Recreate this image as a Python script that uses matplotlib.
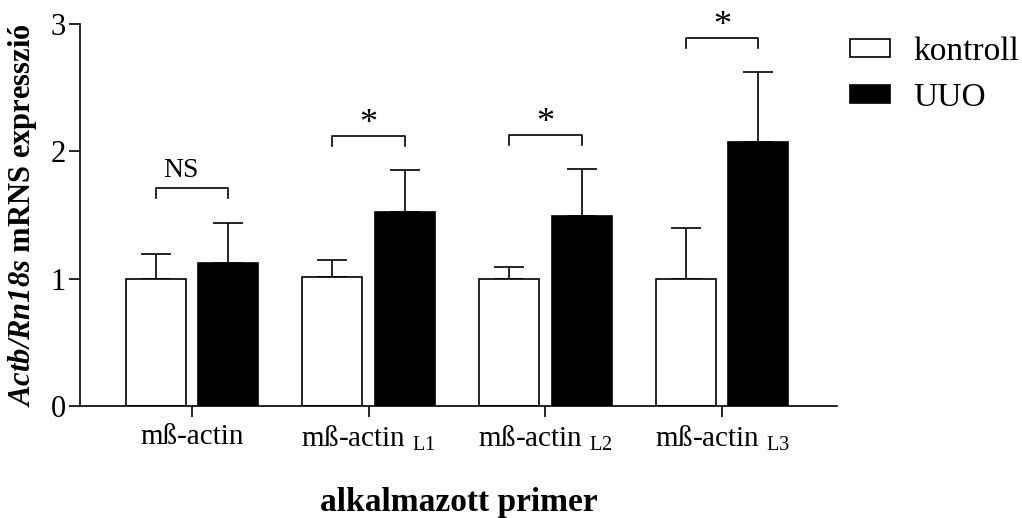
import numpy as np
import matplotlib
matplotlib.use("Agg")
import matplotlib.pyplot as plt
from matplotlib.patches import Patch

plt.rcParams['font.family'] = ['Liberation Serif', 'DejaVu Serif']
plt.rcParams['mathtext.fontset'] = 'custom'
plt.rcParams['mathtext.rm'] = 'Liberation Serif'
plt.rcParams['mathtext.it'] = 'Liberation Serif:italic'
plt.rcParams['mathtext.bf'] = 'Liberation Serif:bold'
plt.rcParams['mathtext.bfit'] = 'Liberation Serif:italic:bold'

# data
primers = ["mß-actin", r"mß-actin $_{\mathrm{L1}}$", r"mß-actin $_{\mathrm{L2}}$", r"mß-actin $_{\mathrm{L3}}$"]
kontroll = [1.00, 1.01, 1.00, 1.00]
kontroll_top = [1.19, 1.15, 1.09, 1.40]
uuo = [1.12, 1.52, 1.49, 2.07]
uuo_top = [1.44, 1.85, 1.86, 2.62]
signif = ["NS", "*", "*", "*"]

x = np.arange(len(primers))
w = 0.34
off = 0.205

fig = plt.figure(figsize=(10.22, 5.18), dpi=100)
ax = fig.add_axes([0.078, 0.216, 0.741, 0.738])

k_err = np.array(kontroll_top) - np.array(kontroll)
u_err = np.array(uuo_top) - np.array(uuo)

ax.bar(x - off, kontroll, w, color='white', edgecolor='black', linewidth=1.2, zorder=2)
ax.bar(x + off, uuo, w, color='black', edgecolor='black', linewidth=1.2, zorder=2)
ax.errorbar(x - off, kontroll, yerr=[np.zeros(len(x)), k_err], fmt='none',
            ecolor='black', elinewidth=1.2, capsize=10.5, capthick=1.2, zorder=1)
ax.errorbar(x + off, uuo, yerr=[np.zeros(len(x)), u_err], fmt='none',
            ecolor='black', elinewidth=1.2, capsize=10.5, capthick=1.2, zorder=1)

# significance brackets
for i in range(len(x)):
    top = max(kontroll_top[i], uuo_top[i]) + 0.27
    ax.plot([x[i] - off, x[i] - off, x[i] + off, x[i] + off],
            [top - 0.08, top, top, top - 0.08], color='black', lw=1.2, clip_on=False)
    if signif[i] == "NS":
        ax.text(x[i] - 0.06, top + 0.04, "NS", ha='center', va='bottom', fontsize=20)
    else:
        ax.text(x[i], top - 0.04, "*", ha='center', va='bottom', fontsize=26)

ax.set_xlim(-0.635, 3.65)
ax.set_ylim(0, 3)
ax.set_yticks([0, 1, 2, 3])
ax.set_xticks(x)
ax.set_xticklabels(primers, fontsize=21)
ax.tick_params(axis='y', labelsize=22, length=8, width=1.2, pad=2)
ax.tick_params(axis='x', length=8, width=1.2, pad=5)
ax.spines['top'].set_visible(False)
ax.spines['right'].set_visible(False)
ax.spines['left'].set_linewidth(1.2)
ax.spines['bottom'].set_linewidth(1.2)

ax.set_ylabel(r"$\mathbfit{Actb/Rn18s}$ mRNS expresszió", fontsize=22, fontweight='bold', labelpad=8)
ax.set_xlabel("alkalmazott primer", fontsize=24, fontweight='bold', labelpad=24)

handles = [Patch(facecolor='white', edgecolor='black', linewidth=1.2),
           Patch(facecolor='black', edgecolor='black', linewidth=1.2)]
fig.legend(handles, ["kontroll", "UUO"], loc='upper left', bbox_to_anchor=(0.832, 0.93),
           frameon=False, fontsize=24, handlelength=1.2, handleheight=0.45,
           labelspacing=0.47, handletextpad=0.7, borderpad=0, borderaxespad=0)

fig.savefig("out.png", dpi=100)
